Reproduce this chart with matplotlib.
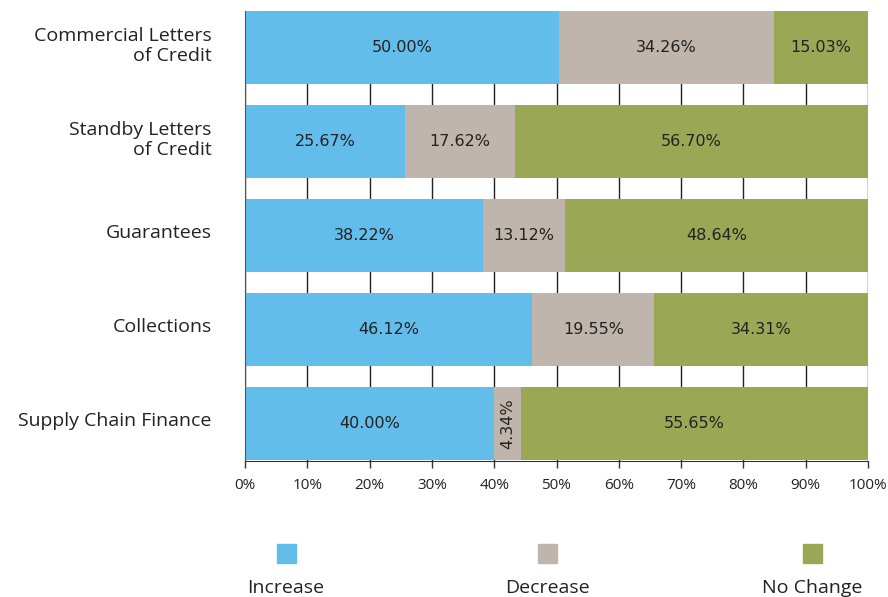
import matplotlib
matplotlib.use("Agg")
import matplotlib.pyplot as plt
import matplotlib.transforms as mtransforms
from matplotlib.patches import Rectangle

plt.rcParams['font.family'] = ['Open Sans', 'DejaVu Sans']

categories = ["Commercial Letters\nof Credit", "Standby Letters\nof Credit", "Guarantees",
              "Collections", "Supply Chain Finance"]
increase = [50.00, 25.67, 38.22, 46.12, 40.00]
decrease = [34.26, 17.62, 13.12, 19.55, 4.34]
no_change = [15.03, 56.70, 48.64, 34.31, 55.65]
series_names = ["Increase", "Decrease", "No Change"]
colors = ["#63BDEB", "#BFB5AC", "#9AA754"]
xticks = list(range(0, 101, 10))
xticklabels = [f"{t}%" for t in xticks]

fig = plt.figure(figsize=(8.88, 5.97), dpi=100)
ax = fig.add_axes([245/888, 1-461/597, (868-245)/888, 450/597])

y = list(range(len(categories)))
series = [increase, decrease, no_change]
totals = [sum(v) for v in zip(*series)]
left = [0.0]*len(categories)
h = 0.775
for vals, col in zip(series, colors):
    widths = [v*100/t for v, t in zip(vals, totals)]
    ax.barh(y, widths, left=left, height=h, color=col, zorder=2)
    for yi, l, w, v in zip(y, left, widths, vals):
        cx = l + w/2
        rot = 90 if w < 8 else 0
        ax.text(cx, yi, f"{v:.2f}%", rotation=rot, ha='center', va='center',
                fontsize=11.5, color='#222222', zorder=3, family='DejaVu Sans')
    left = [a+b for a, b in zip(left, widths)]

ax.set_xlim(0, 100)
ax.set_ylim(4.40, -0.3875)
ax.set_xticks(xticks)
ax.set_xticklabels(xticklabels, fontsize=11, color='#222222')
ax.set_yticks(y)
ax.set_yticklabels(categories, fontsize=14, color='#222222', ha='right',
                   multialignment='right', linespacing=1.15)
ax.tick_params(axis='y', length=0, pad=24)
ax.tick_params(axis='x', length=5, width=1, color='#333333', pad=7)
shift = mtransforms.ScaledTranslation(0, 3.5/72, fig.dpi_scale_trans)
for lbl in ax.get_yticklabels():
    lbl.set_transform(lbl.get_transform() + shift)
ax.xaxis.grid(True, color='#222222', linewidth=1, zorder=0)
ax.set_axisbelow(True)
for s in ['top', 'right']:
    ax.spines[s].set_visible(False)
ax.spines['left'].set_color('#555555')
ax.spines['bottom'].set_color('#333333')

# legend
leg_x = [286, 547, 812]
for name, col, lx in zip(series_names, colors, leg_x):
    fig.add_artist(Rectangle(((lx-9.5)/888, 1-563/597), 19/888, 19/597,
                             transform=fig.transFigure, color=col))
    fig.text(lx/888, 1-588/597, name, ha='center', va='center', fontsize=14, color='#222222')

fig.savefig("out.png", dpi=100)
